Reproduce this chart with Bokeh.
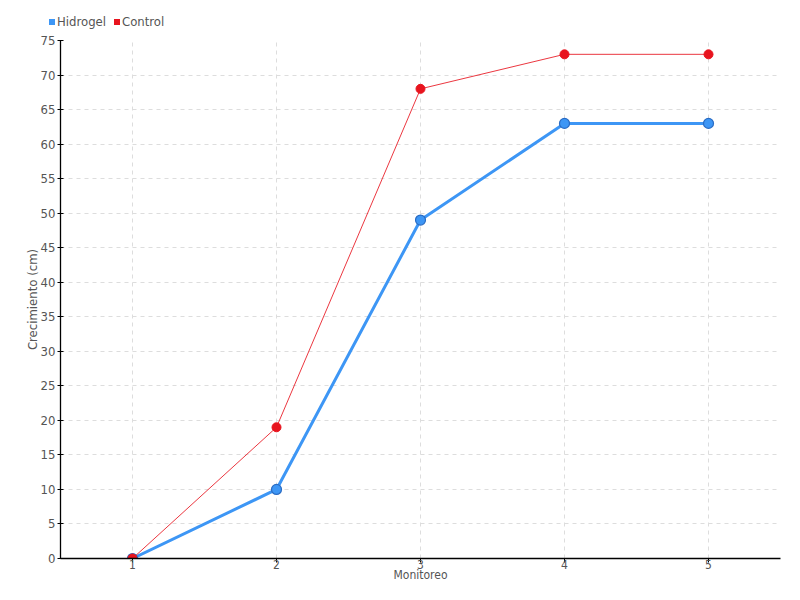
from bokeh.plotting import figure
from bokeh.models import Range1d, FixedTicker, ColumnDataSource, Div
from bokeh.layouts import column
from bokeh.embed import file_html
from bokeh.resources import INLINE

monitoreo = [1, 2, 3, 4, 5]
hidrogel = [0, 10, 49, 63, 63]
control = [0, 19, 68, 73, 73]
y_ticks = list(range(0, 80, 5))
series_names = ["Hidrogel", "Control"]

FONT = "DejaVu Sans Condensed"
TXT = "#555555"
BLUE = "#3d96f5"
BLUE_DARK = "#2a6cc4"
RED = "#e8141e"

W, H = 784, 584
DIV_H = 32
TOP, LEFT, RIGHT, BOTTOM = 8, 60, 4, 24

# legend row above the figure
legend_html = (
    f'<div style="position:relative;width:{W}px;height:{DIV_H}px;'
    f'font-family:\'{FONT}\';font-size:13px;color:{TXT};">'
    f'<span style="position:absolute;left:49px;top:19px;width:6px;height:6px;background:{BLUE};"></span>'
    f'<span style="position:absolute;left:57px;top:14px;line-height:16px;">{series_names[0]}</span>'
    f'<span style="position:absolute;left:114px;top:19px;width:6px;height:6px;background:{RED};"></span>'
    f'<span style="position:absolute;left:122px;top:14px;line-height:16px;">{series_names[1]}</span>'
    '</div>'
)
legend_div = Div(text=legend_html, width=W, height=DIV_H, margin=(0, 0, 0, 0))

p = figure(width=W, height=H - DIV_H, output_backend="svg", toolbar_location=None,
           x_range=Range1d(0.5, 5.5), y_range=Range1d(0, 75),
           min_border_left=LEFT, min_border_right=RIGHT, min_border_top=TOP,
           min_border_bottom=BOTTOM, margin=(0, 0, 0, 0))
p.outline_line_color = None

src_h = ColumnDataSource(dict(x=monitoreo, y=hidrogel))
src_c = ColumnDataSource(dict(x=monitoreo, y=control))

p.line("x", "y", source=src_h, line_color=BLUE, line_width=3)
p.scatter("x", "y", source=src_h, size=10, fill_color=BLUE, line_color=BLUE_DARK, line_width=1.2)
p.line("x", "y", source=src_c, line_color=RED, line_width=1, line_alpha=0.85)
p.scatter("x", "y", source=src_c, size=9, fill_color=RED, line_color=RED)

for ax in (p.xaxis, p.yaxis):
    ax.axis_line_color = "black"
    ax.axis_line_width = 1.3
    ax.major_tick_line_color = "black"
    ax.minor_tick_line_color = None
    ax.major_label_text_font = FONT
    ax.major_label_text_font_size = "13px"
    ax.major_label_text_color = TXT
    ax.axis_label_text_font = FONT
    ax.axis_label_text_font_size = "13px"
    ax.axis_label_text_color = TXT
    ax.axis_label_text_font_style = "normal"

p.xaxis.ticker = FixedTicker(ticks=monitoreo)
p.xaxis.major_tick_in = 0
p.xaxis.major_tick_out = 4
p.xaxis.major_label_standoff = -3
p.xaxis.axis_label = "Monitoreo"
p.xaxis.axis_label_standoff = -4
p.xaxis.major_label_text_font_size = "12px"
p.xaxis.axis_label_text_font_size = "12px"

p.yaxis.ticker = FixedTicker(ticks=y_ticks)
p.yaxis.major_tick_in = 3
p.yaxis.major_tick_out = 3
p.yaxis.major_label_standoff = 2
p.yaxis.axis_label = "Crecimiento (cm)"
p.yaxis.axis_label_standoff = -2

p.grid.grid_line_color = "#dddddd"
p.grid.grid_line_dash = "4 4"
p.grid.grid_line_width = 1
p.xgrid.ticker = FixedTicker(ticks=monitoreo)
p.ygrid.ticker = FixedTicker(ticks=y_ticks)

layout = column(legend_div, p, spacing=0)
open("out.html", "w").write(file_html(layout, INLINE))
